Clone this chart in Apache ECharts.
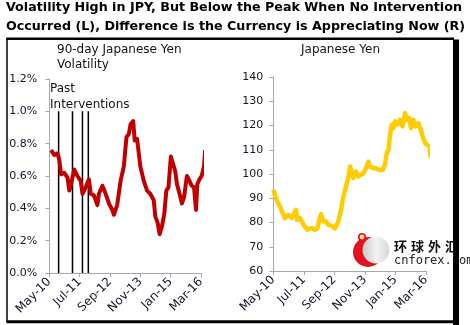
<!DOCTYPE html>
<html>
<head>
<meta charset="utf-8">
<script src="https://cdn.jsdelivr.net/npm/echarts@6/dist/echarts.min.js"></script>
<style>
  html, body { margin: 0; padding: 0; background: #fff; }
  #chart { width: 470px; height: 325px; }
</style>
</head>
<body>
<div id="chart"></div>
<script>
// x positions are months counted from May 2010
const tickLabels = ['May-10', 'Jul-11', 'Sep-12', 'Nov-13', 'Jan-15', 'Mar-16'];
const tickStep = 14;

// 90-day Japanese yen volatility, percent
const volMonths = [0.8, 2.3, 3.8, 4.6, 5.4, 6.9, 8.4, 9.2, 9.9, 11.5, 13.0, 14.5, 15.3, 16.8, 18.3, 19.1,
  20.6, 22.2, 22.9, 24.5, 25.2, 26.0, 27.5, 29.1, 29.8, 31.3, 32.9, 34.4, 35.6, 36.7, 37.5, 38.7, 39.4,
  40.5, 41.3, 42.0, 43.6, 45.1, 46.6, 48.2, 48.9, 50.0, 50.9, 52.0, 53.1, 54.0, 55.0, 56.1, 57.0, 58.1,
  58.9, 60.1, 61.2, 62.2, 63.5, 64.7, 65.7, 66.8, 67.7, 68.3, 69.3, 70.3, 71.4, 71.9];
const volValues = [0.76, 0.73, 0.74, 0.70, 0.61, 0.62, 0.59, 0.51, 0.54, 0.64, 0.60, 0.57, 0.49, 0.53, 0.58, 0.49,
  0.48, 0.42, 0.49, 0.54, 0.55, 0.49, 0.43, 0.39, 0.36, 0.42, 0.57, 0.66, 0.84, 0.86, 0.92, 0.94, 0.82,
  0.83, 0.74, 0.66, 0.57, 0.51, 0.49, 0.45, 0.35, 0.31, 0.24, 0.29, 0.37, 0.51, 0.53, 0.72, 0.73, 0.63,
  0.55, 0.49, 0.43, 0.47, 0.60, 0.57, 0.54, 0.53, 0.39, 0.55, 0.58, 0.60, 0.66, 0.76];

// USD/JPY level
const yenMonths = [0, 1.5, 3.1, 4.3, 5.4, 6.9, 8.4, 9.5, 10.4, 11.0, 12.2, 13.5, 14.5, 15.6, 16.8, 18.0,
  19.1, 20.2, 21.1, 21.9, 22.9, 24.2, 25.2, 26.8, 28.3, 29.8, 30.9, 32.1, 33.3, 34.4, 35.2, 35.9, 36.7,
  37.9, 39.0, 40.1, 41.3, 42.5, 43.6, 44.3, 45.6, 47.1, 48.6, 50.2, 51.2, 52.0, 52.8, 53.5, 54.3, 55.0,
  55.8, 56.9, 58.1, 59.3, 60.4, 61.2, 62.4, 63.1, 64.2, 65.1, 66.5, 67.6, 68.5, 69.6, 70.6, 71.6, 72.2];
const yenValues = [93.5, 89.3, 86.6, 83.8, 81.8, 83.1, 81.8, 83.8, 85.2, 81.1, 81.8, 79.7, 78.3, 77.0, 77.6, 77.6,
  77.0, 77.6, 81.1, 83.5, 80.4, 80.4, 79.0, 78.6, 77.6, 80.4, 84.5, 90.7, 94.8, 98.3, 103.1, 101.0, 98.3,
  101.0, 99.0, 99.6, 100.3, 102.4, 105.1, 103.1, 102.4, 102.4, 101.7, 101.7, 103.8, 108.6, 110.0, 116.1, 120.3, 118.9,
  121.7, 120.3, 122.3, 119.6, 125.1, 122.3, 123.0, 118.9, 122.3, 119.6, 121.0, 118.2, 115.5, 112.7, 112.0, 111.3, 106.5];

// BoJ / MoF intervention dates
const interventionMonths = [4.3, 10.7, 15.3, 18.0];
const interventionTop = 1.0;

const FONT = "'DejaVu Sans', Verdana, sans-serif";
const LABEL = '#14142a';
const AXIS = '#a8a8a8';

const pairs = (xs, ys) => xs.map((x, i) => [x, ys[i]]);

function xAxisFor(gridIndex) {
  return {
    type: 'value', gridIndex, min: 0, max: tickStep * (tickLabels.length - 1), interval: tickStep,
    axisLine: { lineStyle: { color: AXIS, width: 1 } },
    axisTick: { show: true, length: 4, lineStyle: { color: AXIS } },
    splitLine: { show: false },
    axisLabel: {
      rotate: 45, margin: 7, fontSize: 12, fontFamily: FONT, color: LABEL,
      formatter: v => tickLabels[Math.round(v / tickStep)] || ''
    }
  };
}

const chart = echarts.init(document.getElementById('chart'), null, { renderer: 'canvas' });

const interventionSeries = interventionMonths.map(m => ({
  type: 'line', xAxisIndex: 0, yAxisIndex: 0, z: 1, silent: true,
  showSymbol: false, symbol: 'none',
  lineStyle: { color: '#000', width: 1.5 },
  data: [[m, 0], [m, interventionTop]]
}));

chart.setOption({
  animation: false,
  backgroundColor: '#fff',
  grid: [
    { left: 49.3, top: 79, width: 151.7, height: 194 },
    { left: 273.3, top: 77, width: 152.7, height: 194 }
  ],
  xAxis: [xAxisFor(0), xAxisFor(1)],
  yAxis: [
    {
      type: 'value', gridIndex: 0, min: 0, max: 1.2, interval: 0.2,
      axisLine: { show: true, lineStyle: { color: AXIS } },
      axisTick: { show: true, length: 4, lineStyle: { color: AXIS } },
      splitLine: { show: false },
      axisLabel: { margin: 12, fontSize: 11, fontFamily: FONT, color: LABEL, formatter: v => v.toFixed(1) + '%' }
    },
    {
      type: 'value', gridIndex: 1, min: 60, max: 140, interval: 10,
      axisLine: { show: true, lineStyle: { color: AXIS } },
      axisTick: { show: true, length: 4, lineStyle: { color: AXIS } },
      splitLine: { show: false },
      axisLabel: { margin: 10, fontSize: 11, fontFamily: FONT, color: LABEL }
    }
  ],
  series: [
    ...interventionSeries,
    {
      name: '90-day Japanese Yen Volatility', type: 'line', xAxisIndex: 0, yAxisIndex: 0, z: 3,
      showSymbol: false, symbol: 'none', clip: false,
      lineStyle: { color: '#c00000', width: 4, join: 'round' },
      data: pairs(volMonths, volValues)
    },
    {
      name: 'Japanese Yen', type: 'line', xAxisIndex: 1, yAxisIndex: 1, z: 3,
      showSymbol: false, symbol: 'none', clip: false,
      lineStyle: { color: '#ffcc00', width: 4.5, join: 'round' },
      data: pairs(yenMonths, yenValues)
    }
  ],
  graphic: [
    // headline
    { type: 'text', x: 6, y: 7.5, style: { text: 'Volatility High in JPY, But Below the Peak When No Intervention',
      font: 'bold 12.7px ' + FONT, fill: '#000', textVerticalAlign: 'middle' } },
    { type: 'text', x: 6, y: 26.5, style: { text: 'Occurred (L), Difference is the Currency is Appreciating Now (R)',
      font: 'bold 12.7px ' + FONT, fill: '#000', textVerticalAlign: 'middle' } },
    // panel titles
    { type: 'text', x: 57, y: 42.5, style: { text: '90-day Japanese Yen\nVolatility', font: '12px ' + FONT,
      fill: '#111', lineHeight: 15, textVerticalAlign: 'top' } },
    { type: 'text', x: 340.5, y: 50, style: { text: 'Japanese Yen', font: '12px ' + FONT,
      fill: '#111', textAlign: 'center', textVerticalAlign: 'middle' } },
    { type: 'text', x: 50, y: 81, z: 5, style: { text: 'Past\nInterventions', font: '12px ' + FONT,
      fill: '#111', lineHeight: 16, textVerticalAlign: 'top' } },
    // site mark
    { type: 'circle', shape: { cx: 368, cy: 252, r: 15 }, style: { fill: '#e0141e' } },
    { type: 'circle', shape: { cx: 376, cy: 250, r: 13.5 }, style: {
      fill: new echarts.graphic.LinearGradient(0, 0, 1, 0, [
        { offset: 0, color: '#c8c8c8' }, { offset: 0.5, color: '#f2f2f2' }, { offset: 1, color: '#d8d8d8' }]) } },
    { type: 'circle', shape: { cx: 362, cy: 237, r: 3.2 }, style: { fill: '#ffd9a0', stroke: '#e0141e', lineWidth: 1.6 } },
    ...['环', '球', '外', '汇'].map((ch, i) => ({
      type: 'text', x: 394 + i * 17, y: 246, style: { text: ch, font: 'bold 13px "Noto Sans CJK SC", sans-serif',
        fill: '#111', textVerticalAlign: 'middle' } })),
    { type: 'text', x: 394, y: 261, style: { text: 'cnforex.com', font: "12px 'DejaVu Sans Mono', monospace",
      fill: '#222', textVerticalAlign: 'middle' } },
    // frame
    { type: 'line', shape: { x1: 7, y1: 38, x2: 7, y2: 322 }, style: { stroke: '#000', lineWidth: 1.5 } },
    { type: 'line', shape: { x1: 6.5, y1: 38.7, x2: 454, y2: 38.7 }, style: { stroke: '#000', lineWidth: 2.5 } },
    { type: 'line', shape: { x1: 6.5, y1: 321.8, x2: 454, y2: 321.8 }, style: { stroke: '#000', lineWidth: 3 } },
    { type: 'rect', shape: { x: 453, y: 39.5, width: 6, height: 286 }, style: { fill: '#000' } }
  ]
});
</script>
</body>
</html>
